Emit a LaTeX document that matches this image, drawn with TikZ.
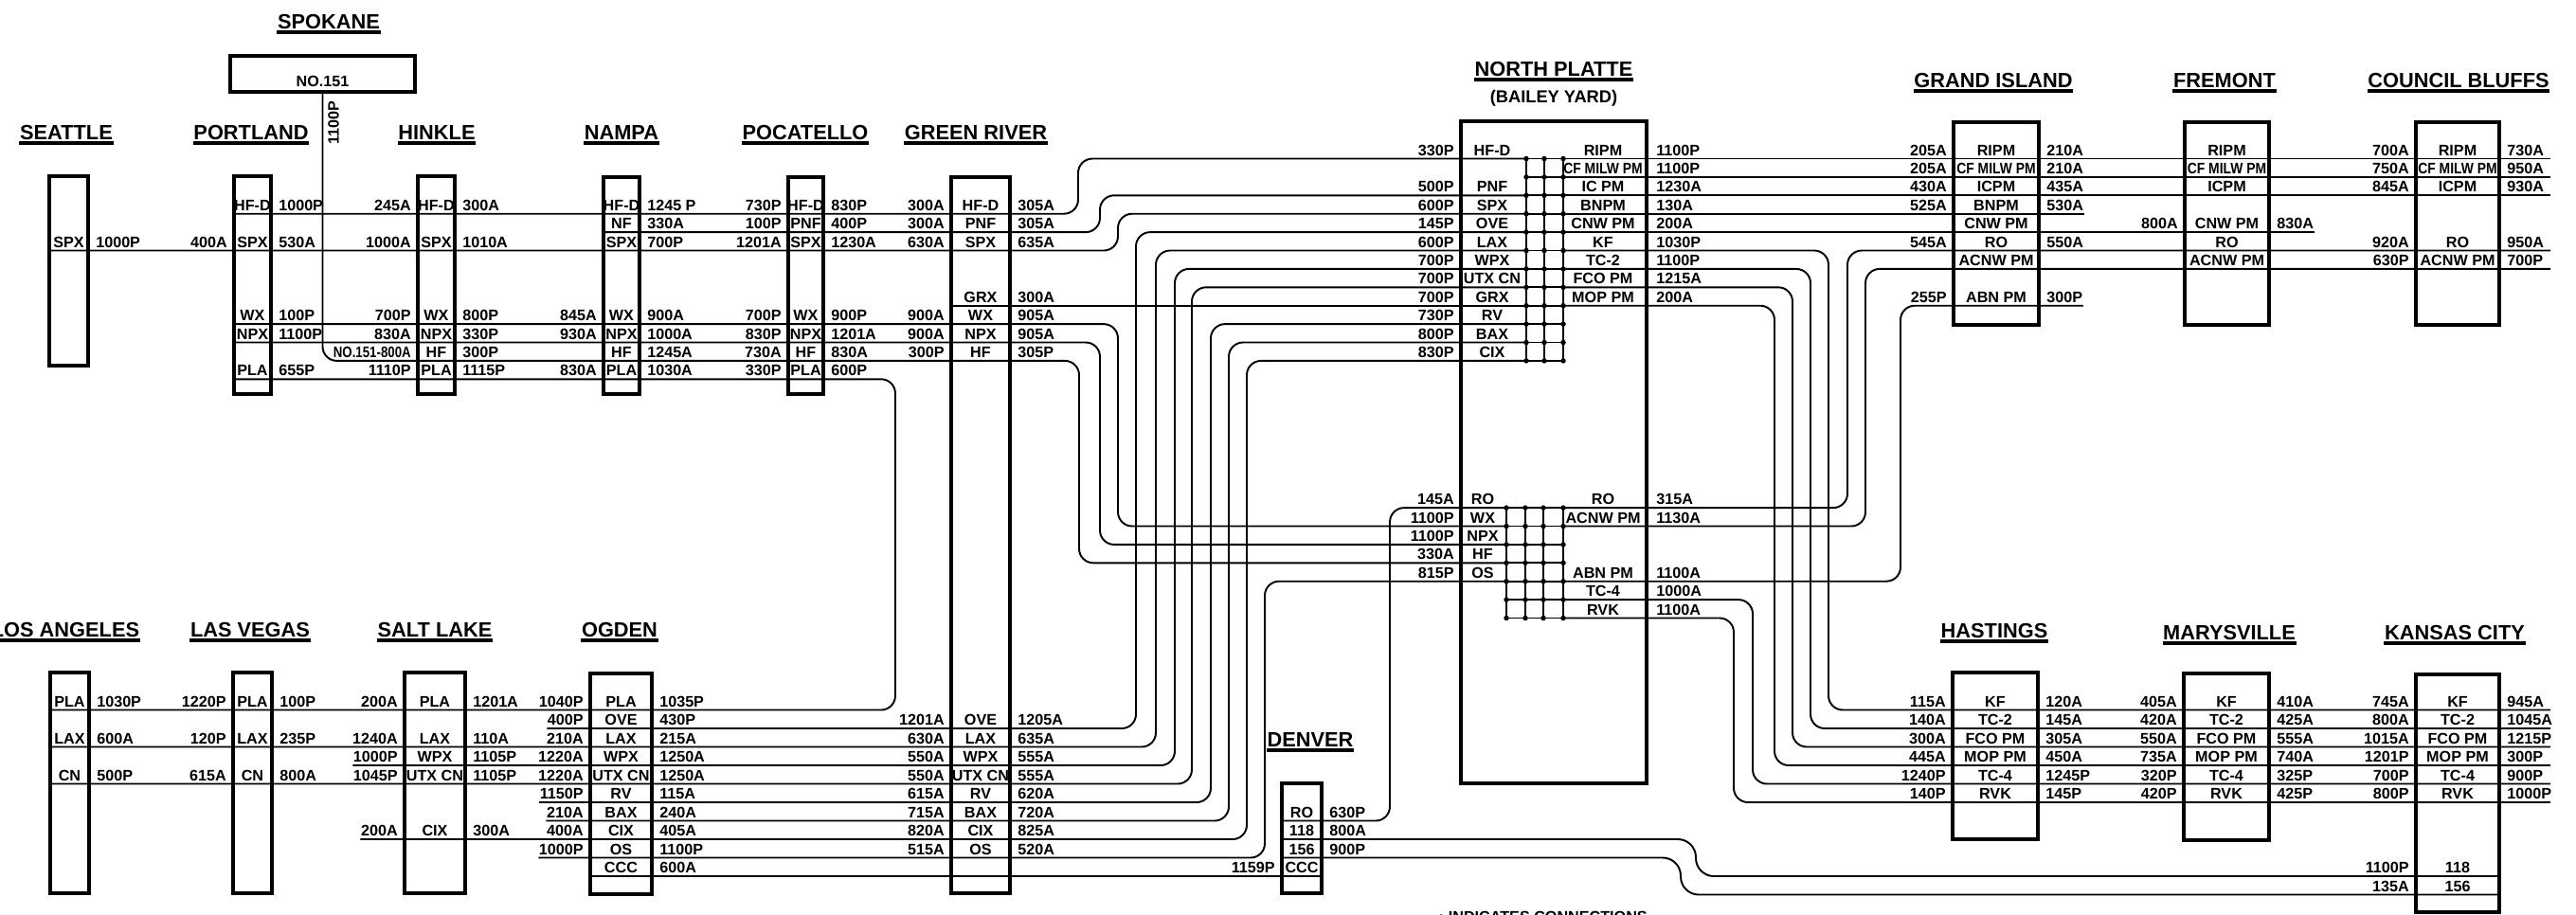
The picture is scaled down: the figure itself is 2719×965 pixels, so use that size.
\documentclass[tikz,border=0pt]{standalone}
\usepackage{fontspec}
\setmainfont{Liberation Sans}
\usepackage{graphicx}
\usetikzlibrary{fit}
\newcommand{\lblfont}{\fontsize{4.6}{5}\selectfont\bfseries}
\newcommand{\ttlfont}{\fontsize{6.2}{7}\selectfont\bfseries}
\newcommand{\cfm}{\scalebox{0.86}[1]{CF MILW PM}}
\newcommand{\spkno}{\scalebox{0.82}[1]{NO.151-800A}}
\tikzset{
  stbox/.style={draw, line width=0.9pt, inner sep=0pt},
  lbl/.style={font=\lblfont, inner sep=0pt},
  rlbl/.style={lbl, yshift=0.35mm},
  ttl/.style={font=\ttlfont, inner sep=0pt, anchor=base},
  uline/.style={line width=0.9pt},
  route/.style={line width=0.55pt, rounded corners=1.5mm},
  dotgrid/.style={line width=0.55pt},
  cdot/.style={circle, fill, inner sep=0pt, minimum size=0.55mm},
}
% station box from two corners
\newcommand{\stn}[5]{\node[stbox, fit={(#2,#3) (#4,#5)}] (#1) {};}
% rows of a station: box, prefix, first line, pitch, n/left/inside/right
\newcommand{\stnrows}[5]{%
  \foreach \n/\lf/\md/\rt in {#5}{%
    \pgfmathsetmacro\yy{#3+#4*\n}
    \coordinate (#2-r\n) at (0,\yy);
    \node[rlbl, anchor=base east, xshift=-0.5mm] (#2-l\n) at (#1.west |- #2-r\n) {\lf};
    \node[rlbl, anchor=base] (#2-m\n) at (#1.center |- #2-r\n) {\md};
    \node[rlbl, anchor=base west, xshift=0.6mm] (#2-e\n) at (#1.east |- #2-r\n) {\rt};
  }}

\begin{document}
\begin{tikzpicture}[x=0.1mm, y=-0.1mm]
  \useasboundingbox (0,0) rectangle (2719,965);
  % boxes
  \stn{spk}{243}{59}{438}{97}
  \stn{sea}{52}{186}{93}{386}
  \stn{por}{247}{186}{286}{416}
  \stn{hin}{441}{186}{480}{416}
  \stn{nam}{637}{187}{675}{416}
  \stn{poc}{832}{187}{869}{416}
  \stn{grr}{1004}{187}{1066}{943}
  \stn{npl}{1542}{128}{1738}{827}
  \stn{gri}{2062}{129}{2152}{343}
  \stn{fre}{2306}{129}{2395}{343}
  \stn{cbl}{2550}{129}{2638}{343}
  \stn{lan}{53}{710}{94}{943}
  \stn{lvg}{246}{710}{287}{943}
  \stn{slc}{427}{710}{491}{943}
  \stn{ogd}{623}{711}{688}{944}
  \stn{den}{1353}{827}{1395}{943}
  \stn{has}{2061}{710}{2151}{886}
  \stn{mar}{2305}{711}{2395}{887}
  \stn{kcy}{2550}{712}{2638}{963}

  \foreach \nm/\x/\y/\txt in {spk/347/30/SPOKANE, sea/70/147/SEATTLE, por/265/147/PORTLAND,
      hin/461/147/HINKLE, nam/656/147/NAMPA, poc/850/147/POCATELLO, grr/1030/147/GREEN RIVER,
      npl/1640/80/NORTH PLATTE, gri/2104/92/GRAND ISLAND, fre/2348/92/FREMONT,
      cbl/2595/92/COUNCIL BLUFFS, lan/69/672/LOS ANGELES, lvg/264/672/LAS VEGAS,
      slc/459/672/SALT LAKE, ogd/654/672/OGDEN, den/1383/788/DENVER, has/2105/673/HASTINGS,
      mar/2353/675/MARYSVILLE, kcy/2591/675/KANSAS CITY}{
    \node[ttl] (t-\nm) at (\x,\y) {\txt};
    \draw[uline] ([yshift=-0.4mm]t-\nm.base west) -- ([yshift=-0.4mm]t-\nm.base east);
  }
  \node[ttl, font=\fontsize{5.2}{6}\selectfont\bfseries] (t-bailey) at (1640,108) {(BAILEY YARD)};
  \node[lbl, anchor=base] (spk-no) at (spk.center |- 0,91) {NO.151};
  \node[lbl, rotate=90] (spk-t) at (352,129.5) {1100P};

  \stnrows{sea}{sea}{167.5}{19.4}{5/{}/SPX/1000P}
  \stnrows{por}{por}{167.5}{19.4}{3/{}/HF-D/1000P, 5/400A/SPX/530A, 9/{}/WX/100P, 10/{}/NPX/1100P, 12/{}/PLA/655P}
  \stnrows{hin}{hin}{167.5}{19.4}{3/245A/HF-D/300A, 5/1000A/SPX/1010A, 9/700P/WX/800P, 10/830A/NPX/330P, 11/\spkno/HF/300P, 12/1110P/PLA/1115P}
  \stnrows{nam}{nam}{167.5}{19.4}{3/{}/HF-D/1245 P, 4/{}/NF/330A, 5/{}/SPX/700P, 9/845A/WX/900A, 10/930A/NPX/1000A, 11/{}/HF/1245A, 12/830A/PLA/1030A}
  \stnrows{poc}{poc}{167.5}{19.4}{3/730P/HF-D/830P, 4/100P/PNF/400P, 5/1201A/SPX/1230A, 9/700P/WX/900P, 10/830P/NPX/1201A, 11/730A/HF/830A, 12/330P/PLA/600P}
  \stnrows{grr}{grt}{167.5}{19.4}{3/300A/HF-D/305A, 4/300A/PNF/305A, 5/630A/SPX/635A, 8/{}/GRX/300A, 9/900A/WX/905A, 10/900A/NPX/905A, 11/300P/HF/305P}
  \stnrows{grr}{grb}{749.5}{19.5}{1/1201A/OVE/1205A, 2/630A/LAX/635A, 3/550A/WPX/555A, 4/550A/UTX CN/555A, 5/615A/RV/620A, 6/715A/BAX/720A, 7/820A/CIX/825A, 8/515A/OS/520A}
  \stnrows{gri}{gri}{167.5}{19.4}{0/205A/RIPM/210A, 1/205A/\cfm/210A, 2/430A/ICPM/435A, 3/525A/BNPM/530A, 4/{}/CNW PM/{}, 5/545A/RO/550A, 6/{}/ACNW PM/{}, 8/255P/ABN PM/300P}
  \stnrows{fre}{fre}{167.5}{19.4}{0/{}/RIPM/{}, 1/{}/\cfm/{}, 2/{}/ICPM/{}, 4/800A/CNW PM/830A, 5/{}/RO/{}, 6/{}/ACNW PM/{}}
  \stnrows{cbl}{cbl}{167.5}{19.4}{0/700A/RIPM/730A, 1/750A/\cfm/950A, 2/845A/ICPM/930A, 5/920A/RO/950A, 6/630P/ACNW PM/700P}
  \stnrows{lan}{lan}{749.5}{19.5}{0/{}/PLA/1030P, 2/{}/LAX/600A, 4/{}/CN/500P}
  \stnrows{lvg}{lvg}{749.5}{19.5}{0/1220P/PLA/100P, 2/120P/LAX/235P, 4/615A/CN/800A}
  \stnrows{slc}{slc}{749.5}{19.5}{0/200A/PLA/1201A, 2/1240A/LAX/110A, 3/1000P/WPX/1105P, 4/1045P/UTX CN/1105P, 7/200A/CIX/300A}
  \stnrows{ogd}{ogd}{749.5}{19.5}{0/1040P/PLA/1035P, 1/400P/OVE/430P, 2/210A/LAX/215A, 3/1220A/WPX/1250A, 4/1220A/UTX CN/1250A, 5/1150P/RV/115A, 6/210A/BAX/240A, 7/400A/CIX/405A, 8/1000P/OS/1100P, 9/{}/CCC/600A}
  \stnrows{den}{den}{749.5}{19.5}{6/{}/RO/630P, 7/{}/118/800A, 8/{}/156/900P, 9/1159P/CCC/{}}
  \stnrows{has}{has}{749.5}{19.5}{0/115A/KF/120A, 1/140A/TC-2/145A, 2/300A/FCO PM/305A, 3/445A/MOP PM/450A, 4/1240P/TC-4/1245P, 5/140P/RVK/145P}
  \stnrows{mar}{mar}{749.5}{19.5}{0/405A/KF/410A, 1/420A/TC-2/425A, 2/550A/FCO PM/555A, 3/735A/MOP PM/740A, 4/320P/TC-4/325P, 5/420P/RVK/425P}
  \stnrows{kcy}{kcy}{749.5}{19.5}{0/745A/KF/945A, 1/800A/TC-2/1045A, 2/1015A/FCO PM/1215P, 3/1201P/MOP PM/300P, 4/700P/TC-4/900P, 5/800P/RVK/1000P, 9/1100P/118/{}, 10/135A/156/{}}

  % north platte yard
  \foreach \n/\lf/\li/\ri/\rt in {0/330P/HF-D/RIPM/1100P, 1/{}/{}/\cfm/1100P, 2/500P/PNF/IC PM/1230A,
      3/600P/SPX/BNPM/130A, 4/145P/OVE/CNW PM/200A, 5/600P/LAX/KF/1030P, 6/700P/WPX/TC-2/1100P,
      7/700P/UTX CN/FCO PM/1215A, 8/700P/GRX/MOP PM/200A, 9/730P/RV/{}/{}, 10/800P/BAX/{}/{},
      11/830P/CIX/{}/{}}{
    \pgfmathsetmacro\yy{167.5+19.4*\n}
    \coordinate (np-r\n) at (0,\yy);
    \node[rlbl, anchor=base east, xshift=-0.5mm] (np-l\n) at (npl.west |- np-r\n) {\lf};
    \node[rlbl, anchor=base] (np-a\n) at (1575,\yy) {\li};
    \node[rlbl, anchor=base] (np-b\n) at (1692,\yy) {\ri};
    \node[rlbl, anchor=base west, xshift=0.8mm] (np-e\n) at (npl.east |- np-r\n) {\rt};
  }
  \foreach \n/\lf/\li/\ri/\rt in {19/145A/RO/RO/315A, 20/1100P/WX/ACNW PM/1130A, 21/1100P/NPX/{}/{},
      22/330A/HF/{}/{}, 23/815P/OS/ABN PM/1100A, 24/{}/{}/TC-4/1000A, 25/{}/{}/RVK/1100A}{
    \pgfmathsetmacro\yy{167.5+19.4*\n}
    \coordinate (np-r\n) at (0,\yy);
    \node[rlbl, anchor=base east, xshift=-0.5mm] (np-l\n) at (npl.west |- np-r\n) {\lf};
    \node[rlbl, anchor=base] (np-a\n) at (1565,\yy) {\li};
    \node[rlbl, anchor=base] (np-b\n) at (1692,\yy) {\ri};
    \node[rlbl, anchor=base west, xshift=0.8mm] (np-e\n) at (npl.east |- np-r\n) {\rt};
  }
  \coordinate (ug1) at (1611,0); \coordinate (ug2) at (1630,0); \coordinate (ug3) at (1650,0);
  \coordinate (lg1) at (1590,0); \coordinate (lg2) at (1610,0); \coordinate (lg3) at (1629,0);
  \coordinate (lg4) at (1650,0); \coordinate (eend) at (2692,0);
  \foreach \g in {ug1,ug2,ug3} \draw[dotgrid] (\g |- 0,167.5) -- (\g |- 0,380.9);
  \foreach \n in {0,...,11}{
    \pgfmathsetmacro\yy{167.5+19.4*\n}
    \draw[dotgrid] (ug1 |- 0,\yy) -- (ug3 |- 0,\yy);
    \foreach \g in {ug1,ug2,ug3} \node[cdot] (\g-\n) at (\g |- 0,\yy) {};
  }
  \foreach \g in {lg1,lg2,lg3,lg4} \draw[dotgrid] (\g |- 0,536.1) -- (\g |- 0,652.5);
  \foreach \n in {19,...,25}{
    \pgfmathsetmacro\yy{167.5+19.4*\n}
    \draw[dotgrid] (lg1 |- 0,\yy) -- (lg4 |- 0,\yy);
    \foreach \g in {lg1,lg2,lg3,lg4} \node[cdot] (\g-\n) at (\g |- 0,\yy) {};
  }

  % trains from the west
  \draw[route] (por.west |- 0,225.7) -- (1138,225.7) -- (1138,167.5) -- (ug1 |- 0,167.5);
  \draw[route] (nam.west |- 0,245.1) -- (1161,245.1) -- (1161,206.3) -- (ug1 |- 0,206.3);
  \draw[route] (sea.west |- 0,264.5) -- (1180,264.5) -- (1180,225.7) -- (ug1 |- 0,225.7);
  \draw[route] (grr.west |- 0,322.7) -- (ug1 |- 0,322.7);
  \draw[route] (por.west |- 0,342.1) -- (1180,342.1) -- (1180,555.5) -- (lg1 |- 0,555.5);
  \draw[route] (por.west |- 0,361.5) -- (1161,361.5) -- (1161,574.9) -- (lg1 |- 0,574.9);
  \draw[route] (spk.south) -- (spk.south |- 0,380.9) -- (1139,380.9) -- (1139,594.3) -- (lg1 |- 0,594.3);
  \draw[route] (por.west |- 0,400.3) -- (945,400.3) -- (945,749.5) -- (lan.west |- 0,749.5);
  \draw[route] (ogd-l1.west |- 0,769) -- (1199,769) -- (1199,245.1) -- (ug1 |- 0,245.1);
  \draw[route] (lan.west |- 0,788.5) -- (1220,788.5) -- (1220,264.5) -- (ug1 |- 0,264.5);
  \draw[route] (slc-l3.west |- 0,808) -- (1240,808) -- (1240,283.9) -- (ug1 |- 0,283.9);
  \draw[route] (lan.west |- 0,827.5) -- (1258,827.5) -- (1258,303.3) -- (ug1 |- 0,303.3);
  \draw[route] (ogd-l5.west |- 0,847) -- (1278,847) -- (1278,342.1) -- (ug1 |- 0,342.1);
  \draw[route] (ogd-l6.west |- 0,866.5) -- (1297,866.5) -- (1297,361.5) -- (ug1 |- 0,361.5);
  \draw[route] (slc-l7.west |- 0,886) -- (1316,886) -- (1316,380.9) -- (ug1 |- 0,380.9);
  \draw[route] (ogd-l8.west |- 0,905.5) -- (1335,905.5) -- (1335,613.7) -- (lg1 |- 0,613.7);
  \draw[route] (ogd.west |- 0,925) -- (den.east |- 0,925);
  \draw[route] (den.west |- 0,866.5) -- (1467,866.5) -- (1467,536.1) -- (lg1 |- 0,536.1);
  \draw[route, rounded corners=1.9mm] (den.west |- 0,886) -- (1790,886) -- (1790,925) -- (kcy.east |- 0,925);
  \draw[route, rounded corners=1.9mm] (den.west |- 0,905.5) -- (1774,905.5) -- (1774,944.5) -- (kcy.east |- 0,944.5);

  % trains to the east
  \draw[route] (ug3 |- 0,167.5) -- (eend |- 0,167.5);
  \draw[route] (ug3 |- 0,186.9) -- (eend |- 0,186.9);
  \draw[route] (ug3 |- 0,206.3) -- (eend |- 0,206.3);
  \draw[route] (ug3 |- 0,225.7) -- (gri-e3.east |- 0,225.7);
  \draw[route] (ug3 |- 0,245.1) -- (fre-e4.east |- 0,245.1);
  \draw[route] (ug3 |- 0,264.5) -- (1930,264.5) -- (1930,749.5) -- (eend |- 0,749.5);
  \draw[route] (ug3 |- 0,283.9) -- (1911,283.9) -- (1911,769) -- (eend |- 0,769);
  \draw[route] (ug3 |- 0,303.3) -- (1892,303.3) -- (1892,788.5) -- (eend |- 0,788.5);
  \draw[route] (ug3 |- 0,322.7) -- (1873,322.7) -- (1873,808) -- (eend |- 0,808);
  \draw[route] (lg4 |- 0,536.1) -- (1950,536.1) -- (1950,264.5) -- (eend |- 0,264.5);
  \draw[route] (lg4 |- 0,555.5) -- (1969,555.5) -- (1969,283.9) -- (eend |- 0,283.9);
  \draw[route] (lg4 |- 0,613.7) -- (2006,613.7) -- (2006,322.7) -- (gri-e8.east |- 0,322.7);
  \draw[route] (lg4 |- 0,633.1) -- (1850,633.1) -- (1850,827.5) -- (eend |- 0,827.5);
  \draw[route] (lg4 |- 0,652.5) -- (1830,652.5) -- (1830,847) -- (eend |- 0,847);

  \node[lbl, anchor=north west] (note) at (1518,961) {\textbullet\ INDICATES CONNECTIONS};
\end{tikzpicture}
\end{document}
